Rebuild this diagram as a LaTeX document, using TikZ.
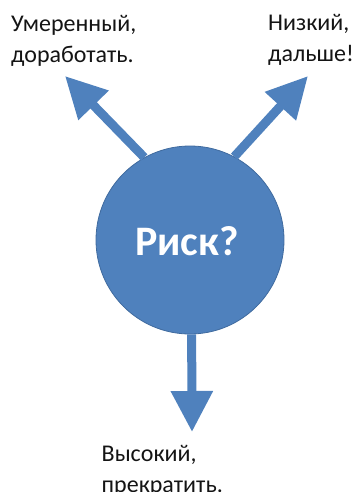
\documentclass[tikz,border=0pt]{standalone}
\usepackage{fontspec}
\setmainfont{Carlito}
\usetikzlibrary{arrows.meta}
\definecolor{riskblue}{HTML}{4F81BD}
\definecolor{riskedge}{HTML}{3F6A9E}
\tikzset{
  riskcircle/.style={circle, draw=riskedge, line width=0.8pt, fill=riskblue, minimum size=188pt, inner sep=0pt},
  riskarrow/.style={draw=riskblue, line width=9pt, -{Triangle[width=40pt,length=41pt]}},
  risklabel/.style={anchor=base west, inner sep=0pt, font=\fontsize{24}{31}\selectfont, text=black!92},
}
\begin{document}
\begin{tikzpicture}[x=1pt,y=-1pt]
\useasboundingbox (0,0) rectangle (361,492);
\node[riskcircle] (c) at (190,240) {};
\node[anchor=base, inner sep=0pt, text=white, font=\fontsize{42}{50}\selectfont\bfseries] (t) at (187,255) {Риск?};
\coordinate (tl) at (65,76);
\coordinate (tr) at (308,76);
\coordinate (bt) at (192,432);
\draw[riskarrow] (c.119) -- (tl);
\draw[riskarrow] (c.62) -- (tr);
\draw[riskarrow] (c.-89) -- (bt);
\node[risklabel] (l1) at (11,31.7) {\begin{tabular}[t]{@{}l@{}}Умеренный,\\доработать.\end{tabular}};
\node[risklabel] (l2) at (268,31) {\begin{tabular}[t]{@{}l@{}}Низкий,\\дальше!\end{tabular}};
\node[risklabel] (l3) at (101.5,461) {\begin{tabular}[t]{@{}l@{}}Высокий,\\прекратить.\end{tabular}};
\end{tikzpicture}
\end{document}
